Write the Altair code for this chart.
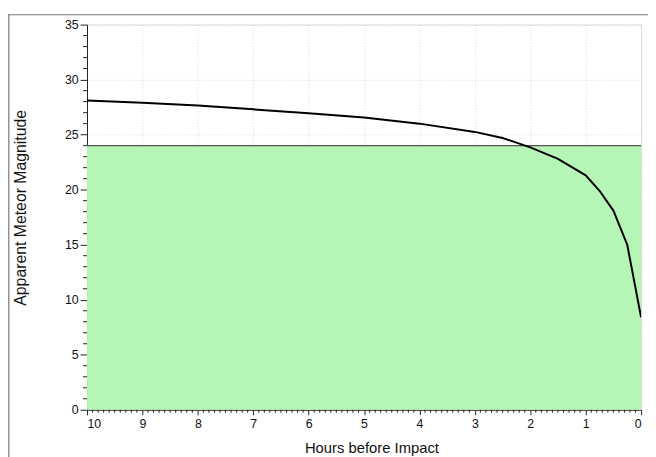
import altair as alt
import pandas as pd

# Data
hours = [10, 9, 8, 7, 6, 5, 4, 3, 2.5, 2, 1.5, 1, 0.75, 0.5, 0.25, 0]
magnitude = [28.1, 27.9, 27.65, 27.3, 26.95, 26.55, 26.0, 25.25, 24.7, 23.85,
             22.8, 21.3, 19.9, 18.1, 15.0, 8.4]
threshold = 24
x_major = list(range(0, 11))
y_major = [0, 5, 10, 15, 20, 25, 30, 35]
x_minor = [round(i * 0.1, 1) for i in range(0, 101) if i % 10 != 0]
y_minor = [i for i in range(0, 36) if i % 5 != 0]

W, H = 561, 390
FONT = "Liberation Sans"

curve = pd.DataFrame({"hours": hours, "mag": magnitude})
band = pd.DataFrame({"x": [10], "x2": [0], "y": [threshold], "y2": [0]})
xmin_df = pd.DataFrame({"h": x_minor})
ymin_df = pd.DataFrame({"m": y_minor})

xscale = alt.Scale(domain=[0, 10], reverse=True, nice=False, zero=False)
yscale = alt.Scale(domain=[0, 35], nice=False, zero=True)

one = pd.DataFrame({"a": [0]})
frame_left = alt.Chart(one).mark_rect(color="#777777", clip=False).encode(
    x=alt.value(-79.8), x2=alt.value(-78.6), y=alt.value(-10.6), y2=alt.value(H + 60)
)
frame_top = alt.Chart(one).mark_rect(color="#777777", clip=False).encode(
    x=alt.value(-79.8), x2=alt.value(W + 12), y=alt.value(-10.6), y2=alt.value(-9.4)
)

green = alt.Chart(band).mark_rect(color="#b5f5b5", opacity=1).encode(
    x=alt.X("x:Q", scale=xscale,
            axis=alt.Axis(values=x_major, format="d", tickSize=5, labelPadding=3,
                          grid=True, gridColor="#c8c8c8", gridDash=[1, 2],
                          gridOpacity=0.7, domainColor="#222", tickColor="#222",
                          labelFont=FONT, labelFontSize=12.5, labelColor="#111",
                          title="Hours before Impact", titleFont=FONT,
                          titleFontSize=15, titleFontWeight="normal",
                          titleColor="#111", titleX=288, titleY=43,
                          titleAlign="center", titleBaseline="alphabetic")),
    x2="x2:Q",
    y=alt.Y("y:Q", scale=yscale,
            axis=alt.Axis(values=y_major, tickSize=7, labelPadding=2,
                          grid=True, gridColor="#c8c8c8", gridDash=[1, 2],
                          gridOpacity=0.7, domainColor="#222", tickColor="#222",
                          labelFont=FONT, labelFontSize=12.5, labelColor="#111",
                          title="Apparent Meteor Magnitude", titleFont=FONT,
                          titleFontSize=16, titleFontWeight="normal",
                          titleColor="#111", titleX=-67, titleY=185,
                          titleAngle=270, titleAlign="center",
                          titleBaseline="middle")),
    y2="y2:Q",
)

thr_line = alt.Chart(band).mark_rule(color="#555555", strokeWidth=1.2).encode(
    y=alt.Y("y:Q", scale=yscale)
)

line = alt.Chart(curve).mark_line(color="#000000", strokeWidth=2, clip=True).encode(
    x=alt.X("hours:Q", scale=xscale),
    y=alt.Y("mag:Q", scale=yscale),
    order="hours:Q",
)

xminor = alt.Chart(xmin_df).mark_rule(color="#222", strokeWidth=1).encode(
    x=alt.X("h:Q", scale=xscale), y=alt.value(H), y2=alt.value(H + 3)
)
yminor = alt.Chart(ymin_df).mark_rule(color="#222", strokeWidth=1).encode(
    y=alt.Y("m:Q", scale=yscale), x=alt.value(-4), x2=alt.value(0)
)

chart = alt.layer(frame_left, frame_top, green, thr_line, line, xminor, yminor).properties(
    width=W, height=H,
    autosize=alt.AutoSizeParams(type="none"),
    padding={"left": 80, "top": 14, "right": 7, "bottom": 45},
).configure_view(stroke="#222222", strokeWidth=1.2).configure(background="white")

chart.save("out.html", embed_options={"renderer": "svg", "actions": False})
